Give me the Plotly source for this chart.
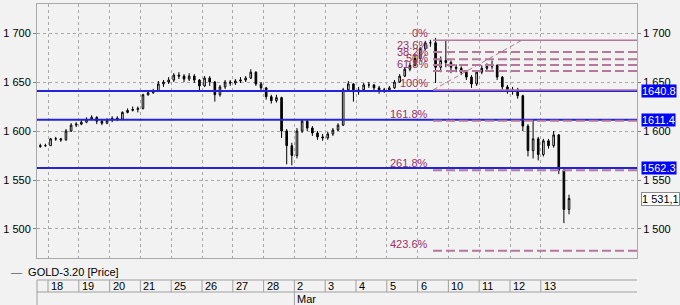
import plotly.graph_objects as go

# ---------------- data ----------------
day_labels = ["18", "19", "20", "21", "25", "26", "27", "28", "2", "3",
              "4", "5", "6", "10", "11", "12", "13"]
month_label = "Mar"
month_day_pos = 8          # index in day_labels where March starts
bars_per_day = 6
first_day_bar = 2          # bars of the partial first day (17th)

opens = [1584, 1585, 1585, 1592, 1592, 1591, 1600, 1606, 1607, 1609,
         1612, 1614, 1610, 1608, 1611, 1613, 1612, 1619, 1621, 1622,
         1623, 1637, 1639, 1641, 1648, 1650, 1652, 1657, 1656, 1653,
         1656, 1652, 1646, 1654, 1650, 1637, 1645, 1650, 1649, 1651,
         1652, 1654, 1660, 1648, 1644, 1635, 1631, 1634, 1600, 1585,
         1575, 1600, 1610, 1603, 1598, 1594, 1593, 1597, 1601, 1606,
         1642, 1648, 1640, 1642, 1647, 1647, 1644, 1641, 1642, 1644,
         1650, 1656, 1663, 1667, 1674, 1684, 1690, 1690, 1665, 1672,
         1670, 1665, 1664, 1660, 1655, 1648, 1660, 1664, 1666, 1667,
         1655, 1645, 1641, 1642, 1636, 1605, 1580, 1592, 1576, 1590,
         1585, 1596, 1560, 1520]
highs = [1587, 1587, 1593, 1594, 1593, 1602, 1608, 1609, 1611, 1614,
         1616, 1615, 1611, 1613, 1615, 1615, 1620, 1623, 1625, 1625,
         1638, 1641, 1643, 1651, 1652, 1655, 1659, 1660, 1658, 1659,
         1658, 1653, 1656, 1656, 1651, 1647, 1652, 1652, 1653, 1655,
         1656, 1663, 1661, 1650, 1645, 1637, 1637, 1635, 1602, 1588,
         1603, 1612, 1611, 1605, 1600, 1597, 1599, 1603, 1608, 1644,
         1651, 1649, 1645, 1649, 1650, 1648, 1646, 1644, 1646, 1652,
         1658, 1665, 1670, 1677, 1686, 1692, 1693, 1695, 1676, 1693,
         1672, 1668, 1666, 1662, 1657, 1662, 1667, 1669, 1672, 1668,
         1656, 1647, 1645, 1644, 1637, 1607, 1611, 1594, 1592, 1592,
         1600, 1597, 1562, 1535]
lows = [1583, 1584, 1585, 1590, 1589, 1590, 1599, 1604, 1606, 1608,
        1611, 1607, 1606, 1607, 1609, 1610, 1611, 1618, 1620, 1619,
        1622, 1636, 1638, 1640, 1645, 1648, 1650, 1653, 1650, 1651,
        1649, 1640, 1645, 1646, 1630, 1635, 1643, 1646, 1647, 1649,
        1650, 1653, 1646, 1641, 1632, 1628, 1629, 1593, 1566, 1565,
        1572, 1598, 1600, 1595, 1591, 1590, 1591, 1595, 1600, 1605,
        1640, 1630, 1637, 1640, 1644, 1641, 1638, 1639, 1640, 1643,
        1649, 1655, 1661, 1666, 1672, 1682, 1686, 1649, 1660, 1665,
        1659, 1660, 1657, 1652, 1644, 1646, 1658, 1662, 1663, 1652,
        1642, 1638, 1637, 1633, 1600, 1574, 1572, 1570, 1574, 1582,
        1583, 1556, 1506, 1515]
closes = [1585, 1585, 1592, 1592, 1591, 1600, 1606, 1607, 1609, 1612,
          1614, 1610, 1608, 1611, 1613, 1612, 1619, 1621, 1622, 1623,
          1637, 1639, 1641, 1648, 1650, 1652, 1657, 1656, 1653, 1656,
          1652, 1646, 1654, 1650, 1637, 1645, 1650, 1649, 1651, 1652,
          1654, 1660, 1648, 1644, 1635, 1631, 1634, 1600, 1585, 1575,
          1600, 1610, 1603, 1598, 1594, 1593, 1597, 1601, 1606, 1642,
          1648, 1640, 1642, 1647, 1647, 1644, 1641, 1642, 1644, 1650,
          1656, 1663, 1667, 1674, 1684, 1690, 1690, 1665, 1672, 1670,
          1665, 1664, 1660, 1655, 1648, 1660, 1664, 1666, 1667, 1655,
          1645, 1641, 1642, 1636, 1605, 1580, 1592, 1576, 1590, 1585,
          1596, 1560, 1520, 1531.1]

levels = [1640.8, 1611.4, 1562.3]
level_labels = ["1640.8", "1611.4", "1562.3"]
last_price = 1531.1
last_price_label = "1 531,1"

fib_high = 1692.6
fib_low = 1641.9
fib_ratios = [0.0, 0.236, 0.382, 0.5, 0.618, 1.0, 1.618, 2.618, 4.236]
fib_labels = ["0%", "23.6%", "38.2%", "50%", "61.8%", "100%", "161.8%", "261.8%", "423.6%"]
fib_start_bar = 76.5
fib_diag_end_bar = 93.8

y_ticks = [1500, 1550, 1600, 1650, 1700]
y_ticktext = ["1 500", "1 550", "1 600", "1 650", "1 700"]
series_name = "GOLD-3.20 [Price]"

# ---------------- layout constants ----------------
W, H = 680, 305
ML, MR, MT, MB = 37, 43, 4, 47
x_range = [-0.643, 116.24]
y_range = [1470.4, 1729.6]
plot_h = H - MT - MB
BG = "#f2f2f2"
GRID = "#a8a8a8"
FONT = "Liberation Sans"
FIB_TXT = "#993366"
FIB_LINE = "#b5779a"
BLUE = "#2323dc"


def py(pix):
    """paper y from a pixel row (for the date strip below the plot)"""
    return (H - MB - pix) / plot_h


def px(pix):
    return (pix - ML) / (W - ML - MR)


xs = list(range(len(closes)))
day_bounds = [first_day_bar - 0.5 + bars_per_day * k for k in range(len(day_labels))]

fig = go.Figure()
fig.add_trace(go.Candlestick(
    x=xs, open=opens, high=highs, low=lows, close=closes,
    increasing=dict(line=dict(color="#000000", width=1), fillcolor="#ffffff"),
    decreasing=dict(line=dict(color="#000000", width=1), fillcolor="#000000"),
    whiskerwidth=0, showlegend=False, hoverinfo="skip",
))
# invisible trace to anchor the right axis
fig.add_trace(go.Scatter(x=[xs[0]], y=[closes[0]], yaxis="y2", mode="markers",
                         marker=dict(opacity=0), showlegend=False, hoverinfo="skip"))

shapes = []
annotations = []

# blue horizontal levels
for lv, lab in zip(levels, level_labels):
    shapes.append(dict(type="line", xref="paper", x0=0, x1=1, yref="y", y0=lv, y1=lv,
                       line=dict(color=BLUE, width=2)))
    annotations.append(dict(xref="paper", x=px(641), xanchor="left", yref="y", y=lv,
                            yanchor="middle", text=lab, showarrow=False,
                            bgcolor="#0000ff", borderpad=0,
                            font=dict(family=FONT, size=11, color="#ffffff")))

annotations.append(dict(xref="paper", x=px(641), xanchor="left", yref="y", y=last_price,
                        yanchor="middle", text=last_price_label, showarrow=False,
                        bgcolor="#ffffff", bordercolor="#8c8c8c", borderwidth=1, borderpad=0,
                        font=dict(family=FONT, size=11, color="#000000")))

# fibonacci
rng = fib_high - fib_low
for r, lab in zip(fib_ratios, fib_labels):
    lv = fib_high - r * rng
    solid = r in (0.0, 1.0)
    shapes.append(dict(type="line", xref="x", x0=fib_start_bar, x1=x_range[1],
                       yref="y", y0=lv, y1=lv,
                       line=dict(color=FIB_LINE, width=1.5 if solid else 2,
                                 dash="solid" if solid else "9px,4px")))
    annotations.append(dict(xref="x", x=fib_start_bar, xanchor="right", xshift=-3,
                            yref="y", y=lv, yanchor="bottom", yshift=-1,
                            text=lab, showarrow=False,
                            font=dict(family=FONT, size=11, color=FIB_TXT)))
shapes.append(dict(type="line", xref="x", x0=fib_start_bar, x1=fib_diag_end_bar,
                   yref="y", y0=fib_low, y1=fib_high,
                   line=dict(color=FIB_LINE, width=1, dash="5px,3px")))

# date strip
LINE = "#a0a0a0"
shapes.append(dict(type="line", xref="paper", x0=0, x1=1, yref="paper", y0=py(280), y1=py(280),
                   line=dict(color=LINE, width=1)))
shapes.append(dict(type="line", xref="paper", x0=0, x1=1, yref="paper", y0=py(292), y1=py(292),
                   line=dict(color=LINE, width=1)))
shapes.append(dict(type="line", xref="paper", x0=0, x1=0, yref="paper", y0=py(280), y1=py(306),
                   line=dict(color=LINE, width=1)))
for b, lab in zip(day_bounds, day_labels):
    shapes.append(dict(type="line", xref="x", x0=b, x1=b, yref="paper", y0=py(280), y1=py(292),
                       line=dict(color=LINE, width=1)))
    annotations.append(dict(xref="x", x=b, xanchor="left", xshift=1, yref="paper", y=py(286),
                            yanchor="middle", text=lab, showarrow=False,
                            font=dict(family=FONT, size=11, color="#000000")))
mb = day_bounds[month_day_pos]
shapes.append(dict(type="line", xref="x", x0=mb, x1=mb, yref="paper", y0=py(292), y1=py(306),
                   line=dict(color=LINE, width=1)))
annotations.append(dict(xref="x", x=mb, xanchor="left", xshift=1, yref="paper", y=py(298.5),
                        yanchor="middle", text=month_label, showarrow=False,
                        font=dict(family=FONT, size=11, color="#000000")))

# legend text
annotations.append(dict(xref="paper", x=px(9), xanchor="left", yref="paper", y=py(272),
                        yanchor="middle", showarrow=False,
                        text='<span style="color:#606060">—</span>  ' + series_name,
                        font=dict(family=FONT, size=11, color="#000000")))

yaxis_common = dict(range=y_range, tickvals=y_ticks, ticktext=y_ticktext,
                    tickfont=dict(family=FONT, size=11, color="#000000"),
                    ticks="outside", ticklen=3, tickcolor="#808080", fixedrange=True)

fig.update_layout(
    width=W, height=H, margin=dict(l=ML, r=MR, t=MT, b=MB, pad=0),
    paper_bgcolor=BG, plot_bgcolor=BG, boxgap=0.55,
    xaxis=dict(range=x_range, tickvals=day_bounds, showticklabels=False, ticks="",
               showgrid=True, gridcolor=GRID, griddash="dot", gridwidth=1,
               showline=True, linecolor="#a9a9a9", mirror=True, zeroline=False,
               rangeslider=dict(visible=False)),
    yaxis=dict(**yaxis_common, side="left", showgrid=True, gridcolor=GRID, griddash="dot",
               showline=True, linecolor="#a9a9a9", mirror=True, zeroline=False),
    yaxis2=dict(**yaxis_common, side="right", overlaying="y", showgrid=False,
                zeroline=False, showline=False),
    shapes=shapes, annotations=annotations, showlegend=False,
)

fig.write_html("out.html")
